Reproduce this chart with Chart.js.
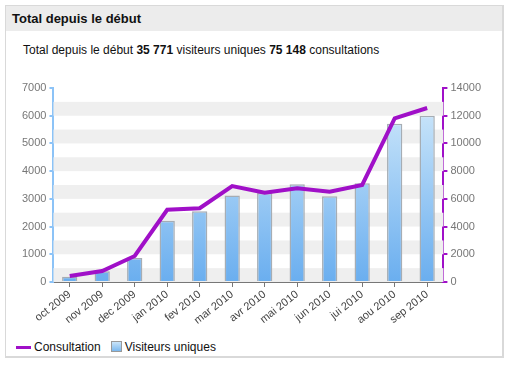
<!DOCTYPE html>
<html>
<head>
  <title>Total depuis le début</title>
  <script src="https://cdn.jsdelivr.net/npm/chart.js"></script>
  <style>
    body { margin: 0; background: #fff; font-family: "Liberation Sans", Arial, sans-serif; }
    #panel {
      position: absolute; left: 5px; top: 5px; width: 496px; height: 350px;
      border: 1px solid #d9d9d9; border-right-width: 2px; border-bottom-width: 2px;
    }
    #header {
      height: 25px; background: #ececec; font-weight: bold; font-size: 13px;
      line-height: 25px; padding-left: 6px; color: #111;
    }
    #summary { position: absolute; left: 17px; top: 37px; font-size: 12px; color: #111; }
    #chartBox { position: absolute; left: 0; top: 68px; width: 496px; height: 262px; }
    #legend { position: absolute; left: 10px; top: 334px; font-size: 12px; color: #111; }
    .sw-line { display: inline-block; width: 15px; height: 3px; background: #a010c8; vertical-align: middle; margin-right: 3px; }
    .sw-box { display: inline-block; width: 9px; height: 9px; border: 1px solid #999; vertical-align: -1px;
      background: linear-gradient(#c9e4f9, #7bb8ee); margin: 0 3px 0 10px; }
  </style>
</head>
<body>
  <div id="panel">
    <div id="header">Total depuis le début</div>
    <div id="summary">Total depuis le début <b>35 771</b> visiteurs uniques <b>75 148</b> consultations</div>
    <div id="chartBox"><canvas id="visitChart"></canvas></div>
    <div id="legend"><span class="sw-line"></span>Consultation<span class="sw-box"></span>Visiteurs uniques</div>
  </div>

  <script>
    const months = ["oct 2009", "nov 2009", "dec 2009", "jan 2010", "fev 2010", "mar 2010",
                    "avr 2010", "mai 2010", "jun 2010", "jui 2010", "aou 2010", "sep 2010"];
    const visiteurs = [190, 385, 865, 2210, 2550, 3125, 3210, 3525, 3090, 3560, 5710, 6000];
    const consultations = [430, 795, 1875, 5215, 5320, 6925, 6445, 6760, 6515, 7000, 11810, 12555];

    // light gray bands every other 500 step on the left axis
    const bands = {
      id: 'bands',
      beforeDatasetsDraw(chart) {
        const { ctx, chartArea, scales } = chart;
        ctx.save();
        ctx.fillStyle = '#efefef';
        for (let v = 0; v < 7000; v += 1000) {
          const top = scales.y.getPixelForValue(v + 500);
          const bot = scales.y.getPixelForValue(v);
          ctx.fillRect(chartArea.left, top, chartArea.right - chartArea.left, bot - top);
        }
        ctx.restore();
      }
    };

    const plain = v => String(v);
    const ctx = document.getElementById('visitChart').getContext('2d');

    new Chart(ctx, {
      data: {
        labels: months,
        datasets: [
          {
            type: 'line',
            label: 'Consultation',
            data: consultations,
            yAxisID: 'y2',
            borderColor: '#a010c8',
            borderWidth: 4,
            pointRadius: 0,
            tension: 0,
            order: 0
          },
          {
            type: 'bar',
            label: 'Visiteurs uniques',
            data: visiteurs,
            yAxisID: 'y',
            borderColor: '#a6adb4',
            borderWidth: 1.5,
            barPercentage: 0.94,
            categoryPercentage: 0.5,
            backgroundColor(c) {
              const area = c.chart.chartArea;
              if (!area) return '#9ccbf3';
              const g = c.chart.ctx.createLinearGradient(0, area.top, 0, area.bottom);
              g.addColorStop(0, '#d4ebfb');
              g.addColorStop(1, '#6aaeef');
              return g;
            },
            order: 1
          }
        ]
      },
      options: {
        responsive: true,
        maintainAspectRatio: false,
        animation: false,
        layout: { padding: { left: 13, right: 18, top: 14, bottom: 8 } },
        plugins: { legend: { display: false }, tooltip: { enabled: false } },
        scales: {
          x: {
            grid: { offset: false, drawOnChartArea: false, drawTicks: true, tickLength: 5, color: '#777', lineWidth: 1 },
            border: { color: '#777', width: 2 },
            ticks: { color: '#444', font: { family: 'Liberation Sans', size: 11 }, maxRotation: 38, minRotation: 38, padding: 1 }
          },
          y: {
            position: 'left',
            min: 0, max: 7000,
            grid: { drawOnChartArea: false, tickLength: 4, color: '#8cc3f7', lineWidth: 2 },
            border: { color: '#8cc3f7', width: 2 },
            ticks: { stepSize: 1000, callback: plain, color: '#777', font: { family: 'Liberation Sans', size: 11 }, padding: 3 }
          },
          y2: {
            position: 'right',
            min: 0, max: 14000,
            grid: { drawOnChartArea: false, tickLength: 4, color: '#a010c8', lineWidth: 2 },
            border: { color: '#a010c8', width: 2 },
            ticks: { stepSize: 2000, callback: plain, color: '#777', font: { family: 'Liberation Sans', size: 11 }, padding: 3 }
          }
        }
      },
      plugins: [bands]
    });
  </script>
</body>
</html>
